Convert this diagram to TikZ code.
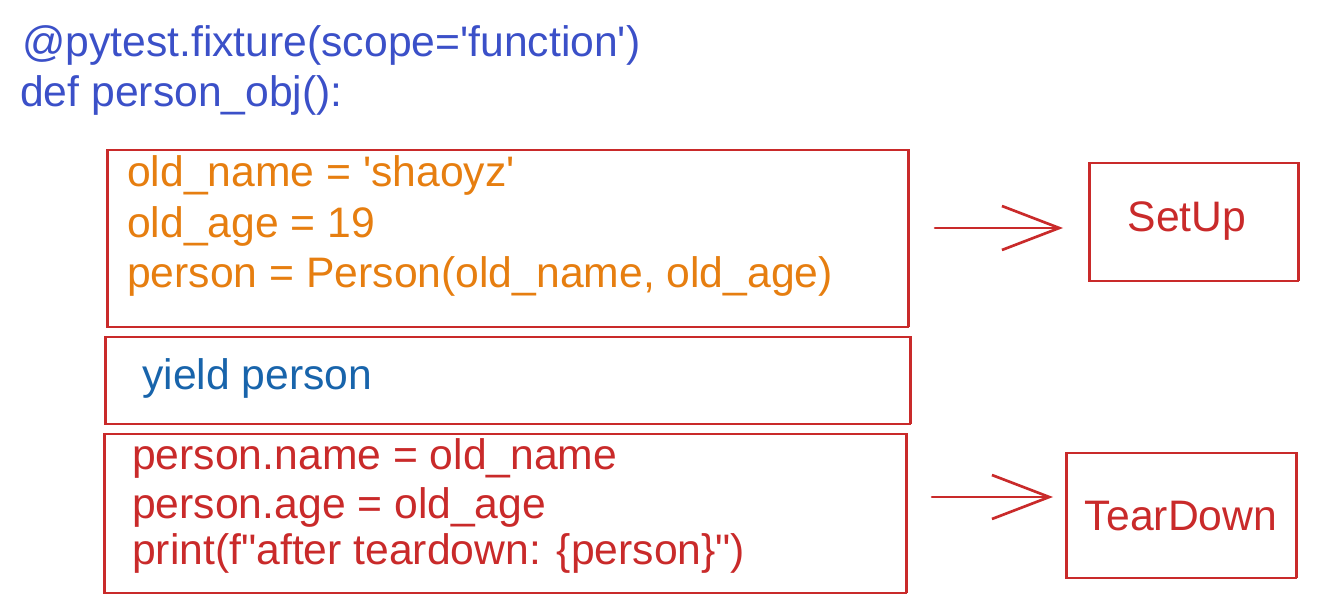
\documentclass[tikz,border=0pt]{standalone}
\usepackage{fontspec}
\setmainfont{Liberation Sans}
\usetikzlibrary{arrows.meta}
\definecolor{tblue}{HTML}{3B50C8}
\definecolor{torange}{HTML}{E67E10}
\definecolor{skred}{HTML}{C92A2A}
\definecolor{yblue}{HTML}{1864AB}
\begin{document}
\begin{tikzpicture}[x=0.75pt,y=-0.75pt,
  sk/.style={draw=skred, line width=1.5pt, inner sep=0pt, outer sep=0pt, anchor=north west,
    postaction={draw=skred, line width=0.8pt, transform canvas={shift={(0.9pt,0.7pt)}}}},
  txt/.style={anchor=base west, inner sep=0pt, font=\fontsize{32}{38}\selectfont},
  arr/.style={draw=skred, line width=2pt, line cap=round,
    -{Straight Barb[length=43pt, width=33pt, line width=2pt]}}
]
\useasboundingbox (0,0) rectangle (1317,613);
% title
\node[txt, text=tblue] (t1) at (22,57) {@pytest.fixture(scope=\textquotesingle function\textquotesingle)};
\node[txt, text=tblue] (t2) at (20,107) {def person\_obj():};
% boxes
\node[sk, minimum width=600.75pt, minimum height=132.75pt] (b1) at (107,150) {};
\node[sk, minimum width=603.75pt, minimum height=65.25pt] (b2) at (105,337) {};
\node[sk, minimum width=601.5pt, minimum height=119.25pt] (b3) at (104,434) {};
\node[sk, minimum width=156.75pt, minimum height=88.5pt] (setup) at (1089,163) {};
\node[sk, minimum width=172.5pt, minimum height=93.75pt] (teardown) at (1066,453) {};
% box texts
\node[txt, text=torange] (o1) at (127,187) {old\_name = \textquotesingle shaoyz\textquotesingle};
\node[txt, text=torange] (o2) at (127,237) {old\_age = 19};
\node[txt, text=torange] (o3) at (127,287) {person = Person(old\_name, old\_age)};
\node[txt, text=yblue] (y1) at (142,389) {yield person};
\node[txt, text=skred] (r1) at (132,469) {person.name = old\_name};
\node[txt, text=skred] (r2) at (132,518) {person.age = old\_age};
\node[txt, text=skred] (r3) at (132,564) {print(f\textquotedbl after teardown: \{person\}\textquotedbl)};
\node[txt, text=skred, anchor=base] (sl) at (1187,231) {SetUp};
\node[txt, text=skred, anchor=base] (tl) at (1181,530) {TearDown};
% arrows
\draw[arr] ([shift={(27,-10.5)}]b1.east) -- ([shift={(-26,6)}]setup.west);
\draw[arr] ([shift={(26,-16.5)}]b3.east) -- ([shift={(-13,-18.5)}]teardown.west);
\end{tikzpicture}
\end{document}
